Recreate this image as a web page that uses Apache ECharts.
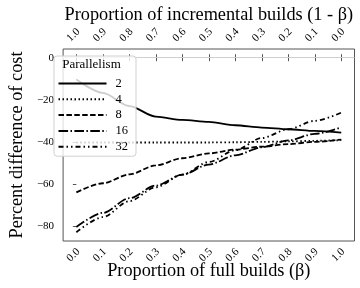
<!DOCTYPE html>
<html><head><meta charset="utf-8">
<script src="https://cdn.jsdelivr.net/npm/echarts@6/dist/echarts.min.js"></script>
<style>html,body{margin:0;padding:0;background:#fff}#c{width:360px;height:288px}</style>
</head><body><div id="c"></div>
<script>
// x: proportion of full builds (beta)
const betaValues = [0, 0.1, 0.2, 0.3, 0.4, 0.5, 0.6, 0.7, 0.8, 0.9, 1.0];
// percent difference of cost, per parallelism level
const par2  = [-10.3, -16.7, -23.0, -28.0, -29.6, -30.5, -32.1, -33.2, -34.0, -34.8, -35.6];
const par4  = [-40.3, -40.3, -40.3, -40.3, -40.3, -40.3, -40.2, -40.0, -39.8, -39.5, -39.2];
const par8  = [-64.0, -59.7, -55.5, -51.2, -47.8, -45.5, -43.7, -42.3, -41.1, -40.0, -38.9];
const par16 = [-80.5, -73.8, -66.8, -60.8, -55.6, -50.8, -46.4, -42.6, -39.3, -36.2, -33.1];
const par32 = [-83.0, -75.8, -68.2, -61.6, -55.6, -49.6, -44.0, -38.2, -34.0, -30.0, -26.1];
const seriesNames = ['2', '4', '8', '16', '32'];
// tick labels
const xTicks = [0, 0.1, 0.2, 0.3, 0.4, 0.5, 0.6, 0.7, 0.8, 0.9, 1.0];
const yTicks = [-80, -60, -40, -20, 0];

const FONT = 'Liberation Serif';
const AX = '#555';
const pairs = arr => betaValues.map((b, i) => [b, arr[i]]);
const dashes = ['solid', [1.5, 2.5], [5.5, 2.4], [9.6, 2.4, 1.5, 2.4], [5, 3, 1.5, 3, 1.5, 3]];
const allData = [par2, par4, par8, par16, par32];
const X_MIN = -0.05, X_MAX = 1.05;
const Y_MIN = -87.15, Y_MAX = 4.15;
const LABEL_SHIFT = 0.011; // rotated labels sit slightly left of their ticks

const chart = echarts.init(document.getElementById('c'), null, {renderer: 'canvas'});
const series = allData.map((d, i) => ({
  name: seriesNames[i],
  type: 'line',
  data: pairs(d),
  showSymbol: false,
  symbol: 'none',
  smooth: 0.3,
  smoothMonotone: 'x',
  lineStyle: {color: '#000', width: 1.8, type: dashes[i]},
  itemStyle: {color: '#000'},
  z: 2
}));
series[0].markLine = {
  silent: true, symbol: 'none', label: {show: false},
  lineStyle: {color: '#cfcfcf', width: 1, type: 'solid'},
  data: [{yAxis: 0}], z: 1
};

const labelAxis = (pos, fmt, margin) => ({
  type: 'value', position: pos, min: X_MIN + LABEL_SHIFT, max: X_MAX + LABEL_SHIFT,
  axisLine: {show: false}, axisTick: {show: false}, splitLine: {show: false},
  axisLabel: {customValues: xTicks, rotate: pos === 'top' ? -45 : 45, margin: margin,
    align: 'center', verticalAlign: 'middle',
    fontFamily: FONT, fontSize: 11, color: '#000', formatter: fmt}
});

chart.setOption({
  animation: false,
  backgroundColor: '#fff',
  grid: {left: 49, right: 5.5, top: 49, bottom: 47, show: true, borderColor: AX, borderWidth: 1, backgroundColor: 'transparent'},
  xAxis: [{
    type: 'value', position: 'bottom', min: X_MIN, max: X_MAX,
    name: 'Proportion of full builds (β)', nameLocation: 'middle', nameGap: 21,
    nameTextStyle: {fontFamily: FONT, fontSize: 18.3, color: '#000'},
    axisLine: {show: false},
    axisTick: {show: true, length: 3.5, customValues: xTicks, lineStyle: {color: AX}},
    axisLabel: {show: false},
    splitLine: {show: false}
  }, {
    type: 'value', position: 'top', min: X_MIN, max: X_MAX,
    name: 'Proportion of incremental builds (1 - β)', nameLocation: 'middle', nameGap: 25,
    nameTextStyle: {fontFamily: FONT, fontSize: 18.3, color: '#000'},
    axisLine: {show: false},
    axisTick: {show: true, length: 3.5, customValues: xTicks, lineStyle: {color: AX}},
    axisLabel: {show: false},
    splitLine: {show: false}
  },
  labelAxis('bottom', v => v.toFixed(1), 14),
  labelAxis('top', v => (1 - v).toFixed(1), 14)],
  yAxis: [{
    type: 'value', position: 'left', min: Y_MIN, max: Y_MAX,
    name: 'Percent difference of cost', nameLocation: 'middle', nameGap: 32,
    nameTextStyle: {fontFamily: FONT, fontSize: 18.3, color: '#000'},
    axisLine: {show: false},
    axisTick: {show: false},
    axisLabel: {customValues: yTicks, margin: 9, fontFamily: FONT, fontSize: 11, color: '#000',
      formatter: v => String(v).replace('-', '\u2212')},
    splitLine: {show: false}
  }, {
    type: 'value', position: 'left', min: Y_MIN, max: Y_MAX, offset: 0,
    axisLine: {show: false},
    axisTick: {show: true, length: 3.5, customValues: yTicks, lineStyle: {color: AX}},
    axisLabel: {show: false},
    splitLine: {show: false}
  }],
  legend: {
    orient: 'vertical', left: 54, top: 56,
    data: seriesNames,
    itemWidth: 48, itemHeight: 14, itemGap: 2.8,
    padding: [21, 8, 3, 3.5],
    backgroundColor: 'rgba(255,255,255,0.8)',
    borderColor: '#d0d0d0', borderWidth: 1, borderRadius: 3,
    itemStyle: {opacity: 0},
    textStyle: {fontFamily: FONT, fontSize: 12.5, color: '#000', padding: [0, 0, 0, 4]},
    z: 5
  },
  graphic: [{
    type: 'text', x: 91.5, y: 64.5, z: 100,
    style: {text: 'Parallelism', textAlign: 'center', textVerticalAlign: 'middle',
      font: '13px "Liberation Serif"', fill: '#000'}
  }],
  series: series
});
</script></body></html>
